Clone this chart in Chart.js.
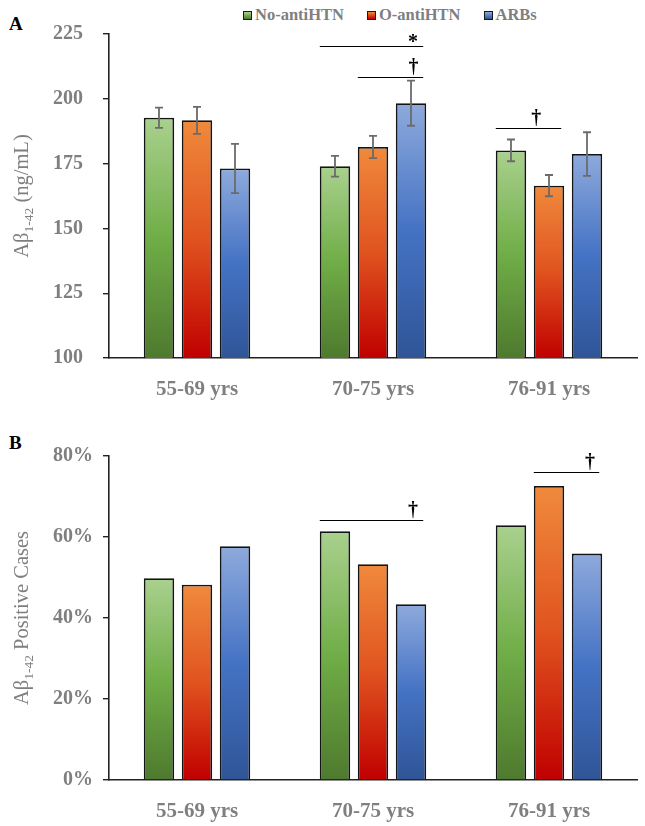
<!DOCTYPE html>
<html>
<head>
<meta charset="utf-8">
<script src="https://cdn.jsdelivr.net/npm/chart.js@4/dist/chart.umd.min.js"></script>
<style>
  html, body { margin: 0; padding: 0; background: #ffffff; }
  body { width: 645px; height: 826px; position: relative; overflow: hidden; font-family: "Liberation Serif", "Times New Roman", serif; }
  #cA { position: absolute; left: 0; top: 0; }
  #cB { position: absolute; left: 0; top: 400px; }
  .panel { position: absolute; font-weight: bold; font-size: 19px; color: #000; }
  #legend { position: absolute; top: 5px; left: 243px; display: flex; font-weight: bold; font-size: 16.5px; color: #7f7f7f; white-space: nowrap; }
  #legend .item { display: flex; align-items: center; }
  #legend .box { width: 7px; height: 7px; border: 1.5px solid #1a1a1a; margin-right: 3px; }
</style>
</head>
<body>
<div class="panel" style="left:9px; top:13px;">A</div>
<div class="panel" style="left:9px; top:432px;">B</div>
<div id="legend"></div>
<canvas id="cA" width="645" height="400"></canvas>
<canvas id="cB" width="645" height="426"></canvas>
<script>
// ---------------- DATA ----------------
const categories = ["55-69 yrs", "70-75 yrs", "76-91 yrs"];
const seriesNames = ["No-antiHTN", "O-antiHTN", "ARBs"];

// Panel A: Aβ1-42 (ng/mL), mean and error
const aNoAnti = [192.7, 174.0, 180.1];
const aOAnti  = [191.7, 181.4, 166.5];
const aARBs   = [173.1, 198.3, 178.7];
const aNoAntiErr = [3.9, 4.0, 4.2];
const aOAntiErr  = [5.2, 4.3, 4.1];
const aARBsErr   = [9.5, 8.7, 8.4];

// Panel B: Aβ1-42 positive cases (%)
const bNoAnti = [49.8, 61.4, 62.9];
const bOAnti  = [48.2, 53.3, 72.6];
const bARBs   = [57.7, 43.4, 55.9];

// Y tick values
const aTicks = [100, 125, 150, 175, 200, 225];
const bTicks = [0, 20, 40, 60, 80];

// Axis titles (main text, subscript, rest)
const aTitle = ["Aβ", "1-42", " (ng/mL)"];
const bTitle = ["Aβ", "1-42", " Positive Cases"];

// Significance marks: category index, from series, to series, y value, symbol
const aSig = [
  {cat: 1, from: 0, to: 2, y: 220.2, sym: "*", frac: 0.9},
  {cat: 1, from: 1, to: 2, y: 208.4, sym: "†", frac: 0.85},
  {cat: 2, from: 0, to: 1, y: 188.7, sym: "†", frac: 0.62}
];
const bSig = [
  {cat: 1, from: 0, to: 2, y: 64.2, sym: "†", frac: 0.9},
  {cat: 2, from: 1, to: 2, y: 76.0, sym: "†", frac: 0.86}
];

// ---------------- STYLE ----------------
const grads = [
  ["#a9d18e", "#70ad47", "#4e7a2e"],
  ["#f08a3c", "#e0531f", "#c00000"],
  ["#8eaadc", "#4472c4", "#2f5597"]
];
const GREY = "#7f7f7f";
const FONT = "'Liberation Serif', 'Times New Roman', serif";

// Legend (HTML text)
const legendEl = document.getElementById("legend");
seriesNames.forEach((n, i) => {
  const it = document.createElement("div");
  it.className = "item";
  it.style.marginRight = i < 2 ? "23px" : "0";
  const b = document.createElement("div");
  b.className = "box";
  b.style.background = `linear-gradient(${grads[i][0]}, ${grads[i][2]})`;
  const t = document.createElement("span");
  t.textContent = n;
  it.appendChild(b); it.appendChild(t);
  legendEl.appendChild(it);
});

function barGradient(i) {
  return (ctx) => {
    const chart = ctx.chart;
    const y = chart.scales && chart.scales.y;
    if (!chart.chartArea || !y || ctx.type !== "data") return grads[i][1];
    const top = y.getPixelForValue(ctx.raw);
    const bottom = y.getPixelForValue(y.min);
    if (!isFinite(top) || !isFinite(bottom) || bottom - top < 1) return grads[i][1];
    const g = chart.ctx.createLinearGradient(0, top, 0, bottom);
    g.addColorStop(0, grads[i][0]);
    g.addColorStop(0.5, grads[i][1]);
    g.addColorStop(1, grads[i][2]);
    return g;
  };
}

function makeDatasets(arrs, errs) {
  return arrs.map((d, i) => ({
    label: seriesNames[i],
    data: d,
    err: errs ? errs[i] : null,
    backgroundColor: barGradient(i),
    borderColor: "#141414",
    borderWidth: 1.8,
    barPercentage: 0.8,
    categoryPercentage: 0.648
  }));
}

const errorBarPlugin = {
  id: "errorBars",
  afterDatasetsDraw(chart) {
    const ctx = chart.ctx, y = chart.scales.y;
    chart.data.datasets.forEach((ds, di) => {
      if (!ds.err) return;
      const meta = chart.getDatasetMeta(di);
      meta.data.forEach((bar, j) => {
        const v = ds.data[j], e = ds.err[j];
        const yt = y.getPixelForValue(v + e), yb = y.getPixelForValue(v - e);
        ctx.save();
        ctx.strokeStyle = "#6b6b6b";
        ctx.lineWidth = 1.8;
        ctx.beginPath();
        ctx.moveTo(bar.x, yt); ctx.lineTo(bar.x, yb);
        ctx.moveTo(bar.x - 4, yt); ctx.lineTo(bar.x + 4, yt);
        ctx.moveTo(bar.x - 4, yb); ctx.lineTo(bar.x + 4, yb);
        ctx.stroke();
        ctx.restore();
      });
    });
  }
};

function sigPlugin(sigs) {
  return {
    id: "sig",
    afterDatasetsDraw(chart) {
      const ctx = chart.ctx, y = chart.scales.y;
      sigs.forEach(s => {
        const b1 = chart.getDatasetMeta(s.from).data[s.cat];
        const b2 = chart.getDatasetMeta(s.to).data[s.cat];
        const x1 = b1.x - b1.width / 2, x2 = b2.x + b2.width / 2 - 3;
        const yy = Math.round(y.getPixelForValue(s.y)) + 0.5;
        ctx.save();
        ctx.strokeStyle = "#000";
        ctx.lineWidth = 1.2;
        ctx.beginPath(); ctx.moveTo(x1, yy); ctx.lineTo(x2, yy); ctx.stroke();
        ctx.fillStyle = "#000";
        ctx.font = (s.sym === "*" ? "bold 20px " : "bold 20px ") + FONT;
        ctx.textAlign = "center";
        ctx.textBaseline = "alphabetic";
        const sx = x1 + (x2 - x1) * s.frac;
        ctx.fillText(s.sym, sx, s.sym === "*" ? yy + 1 : yy - 5);
        ctx.restore();
      });
    }
  };
}

function titlePlugin(parts, cx) {
  return {
    id: "ytitle",
    afterDraw(chart) {
      const ctx = chart.ctx, area = chart.chartArea;
      const cy = (area.top + area.bottom) / 2;
      const big = "20.5px " + FONT, small = "13.5px " + FONT;
      ctx.save();
      ctx.font = big; const w0 = ctx.measureText(parts[0]).width;
      ctx.font = small; const w1 = ctx.measureText(parts[1]).width;
      ctx.font = big; const w2 = ctx.measureText(parts[2]).width;
      const total = w0 + w1 + w2;
      ctx.translate(cx, cy);
      ctx.rotate(-Math.PI / 2);
      ctx.fillStyle = GREY;
      ctx.textBaseline = "middle";
      ctx.textAlign = "left";
      let x = -total / 2;
      ctx.font = big; ctx.fillText(parts[0], x, 0); x += w0;
      ctx.font = small; ctx.fillText(parts[1], x, 6); x += w1;
      ctx.font = big; ctx.fillText(parts[2], x, 0);
      ctx.restore();
    }
  };
}

function makeChart(id, datasets, opts) {
  return new Chart(document.getElementById(id), {
    type: "bar",
    data: { labels: categories, datasets },
    options: {
      responsive: false,
      animation: false,
      devicePixelRatio: 1,
      layout: { padding: { top: opts.top, right: 8, left: 0, bottom: 0 } },
      plugins: { legend: { display: false }, tooltip: { enabled: false } },
      scales: {
        x: {
          grid: { display: false },
          border: { display: true, color: "#222", width: 1.6 },
          ticks: { color: GREY, padding: 11, font: { family: FONT, size: 21, weight: "bold" } },
          afterFit(s) { s.height = opts.xh; }
        },
        y: {
          min: opts.min, max: opts.max,
          afterBuildTicks(s) { s.ticks = opts.ticks.map(v => ({ value: v })); },
          grid: { drawOnChartArea: false, drawTicks: true, tickLength: 6, color: "#222", lineWidth: 1.4 },
          border: { display: true, color: "#222", width: 1.6 },
          ticks: {
            color: GREY, padding: opts.tpad,
            font: { family: FONT, size: 20, weight: "bold" },
            callback: opts.fmt
          },
          afterFit(s) { s.width = 109; }
        }
      }
    },
    plugins: opts.plugins
  });
}

makeChart("cA", makeDatasets([aNoAnti, aOAnti, aARBs], [aNoAntiErr, aOAntiErr, aARBsErr]), {
  top: 34, xh: 42, min: 100, max: 225, ticks: aTicks, tpad: 20,
  fmt: v => String(v),
  plugins: [errorBarPlugin, sigPlugin(aSig), titlePlugin(aTitle, 23)]
});

makeChart("cB", makeDatasets([bNoAnti, bOAnti, bARBs], null), {
  top: 56, xh: 46, min: 0, max: 80, ticks: bTicks, tpad: 10,
  fmt: v => v + "%",
  plugins: [sigPlugin(bSig), titlePlugin(bTitle, 23)]
});
</script>
</body>
</html>
